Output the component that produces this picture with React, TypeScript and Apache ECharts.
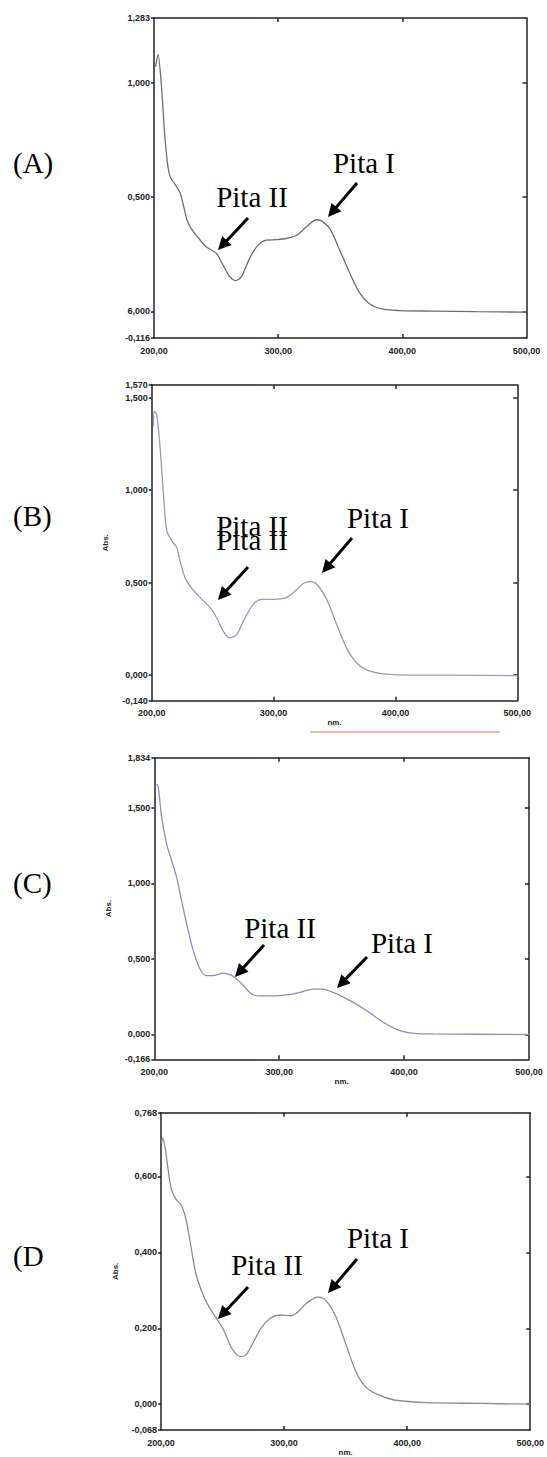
import React, { useEffect, useRef } from "react";
import * as echarts from "echarts";

// ---------- Data ----------
const nmA = [201.3, 203.2, 205.9, 208.6, 211.3, 213.2, 216.7, 220.7, 223.4, 226.6, 230, 234, 242, 250.2, 255.6, 261, 265.8, 270.4, 277, 283.8, 290.5, 298.6, 306.6, 314.7, 322.8, 330.8, 334.8, 341.6, 349.6, 357.7, 365.7, 373.8, 384.5, 398, 424.8, 460, 500];
const absA = [1.07, 1.123, 0.993, 0.775, 0.63, 0.587, 0.558, 0.522, 0.471, 0.399, 0.362, 0.333, 0.283, 0.254, 0.203, 0.152, 0.135, 0.152, 0.232, 0.29, 0.312, 0.314, 0.319, 0.333, 0.37, 0.401, 0.396, 0.362, 0.268, 0.167, 0.08, 0.033, 0.01, 0.004, 0.0015, -0.001, -0.003];

const nmB = [201.4, 202.2, 204.1, 206.8, 209.6, 212.3, 216.4, 220.5, 223.2, 227.3, 231.4, 239.7, 247.9, 253.3, 258.8, 264.3, 269.7, 275.2, 283.4, 290.2, 299.8, 309.4, 316.2, 324.4, 329.9, 335.4, 343.6, 351.8, 360, 368.2, 376.4, 390, 403.7, 450, 500];
const absB = [1.345, 1.427, 1.409, 1.236, 0.982, 0.782, 0.727, 0.691, 0.618, 0.527, 0.482, 0.418, 0.364, 0.309, 0.236, 0.2, 0.218, 0.291, 0.382, 0.409, 0.409, 0.415, 0.445, 0.495, 0.505, 0.491, 0.409, 0.273, 0.145, 0.064, 0.027, 0.005, 0.0, -0.002, -0.004];

const nmC = [201.9, 203.2, 205.9, 209.9, 213.9, 217.9, 221.9, 225.9, 231.2, 236.6, 241.9, 247.2, 255.2, 260.6, 265.9, 271.3, 277.9, 284.6, 295.3, 306, 316.6, 327.3, 334, 343.3, 356.7, 370, 383.3, 396.7, 410, 423.4, 460, 500];
const absC = [1.659, 1.637, 1.438, 1.261, 1.151, 1.04, 0.885, 0.731, 0.555, 0.433, 0.389, 0.389, 0.406, 0.395, 0.367, 0.323, 0.267, 0.254, 0.254, 0.261, 0.278, 0.3, 0.3, 0.278, 0.223, 0.157, 0.08, 0.024, 0.004, 0.002, 0, -0.002];

const nmD = [200.5, 201.3, 203.2, 205.8, 208.5, 212.4, 216.4, 220.4, 224.3, 228.3, 233.6, 238.9, 245.5, 250.8, 257.4, 264, 267.9, 273.2, 281.2, 289.1, 297, 304.9, 310.2, 318.2, 327.4, 334, 342, 349.9, 357.8, 365.7, 376.3, 389.5, 416, 460, 500];
const absD = [0.688, 0.701, 0.679, 0.618, 0.565, 0.539, 0.525, 0.486, 0.416, 0.345, 0.293, 0.257, 0.224, 0.196, 0.148, 0.126, 0.127, 0.152, 0.2, 0.227, 0.235, 0.233, 0.24, 0.266, 0.282, 0.273, 0.231, 0.161, 0.09, 0.047, 0.025, 0.011, 0.004, 0.002, 0];

const xTickValues = [200, 300, 400, 500];
const xTickLabels = ["200,00", "300,00", "400,00", "500,00"];

const yTicksA = [-0.116, 0, 0.5, 1, 1.283];
const yLabelsA = ["-0,116", "6,000", "0,500", "1,000", "1,283"];
const yTicksB = [-0.14, 0, 0.5, 1, 1.5, 1.57];
const yLabelsB = ["-0,140", "0,000", "0,500", "1,000", "1,500", "1,570"];
const yTicksC = [-0.166, 0, 0.5, 1, 1.5, 1.834];
const yLabelsC = ["-0,166", "0,000", "0,500", "1,000", "1,500", "1,834"];
const yTicksD = [-0.068, 0, 0.2, 0.4, 0.6, 0.768];
const yLabelsD = ["-0,068", "0,000", "0,200", "0,400", "0,600", "0,768"];

const panelLabels = ["(A)", "(B)", "(C)", "(D"];

// ---------- Layout ----------
const panels = [
  { nm: nmA, abs: absA, yt: yTicksA, yl: yLabelsA, color: "#6e6e6e", showNames: false,
    grid: { left: 154, top: 18, width: 372.5, height: 320 }, labelY: 165,
    pita2: [{ x: 252, y: 197 }], pita1: { x: 364, y: 163 },
    arrow2: [248, 218, 218, 250], arrow1: [357, 183, 328, 217] },
  { nm: nmB, abs: absB, yt: yTicksB, yl: yLabelsB, color: "#9a9ab2", showNames: true,
    grid: { left: 151.7, top: 385, width: 365.6, height: 315.7 }, labelY: 518,
    pita2: [{ x: 252, y: 526 }, { x: 252, y: 540 }], pita1: { x: 378, y: 518 },
    arrow2: [248, 567, 218, 600], arrow1: [352, 538, 322, 573] },
  { nm: nmC, abs: absC, yt: yTicksC, yl: yLabelsC, color: "#8e8eb8", showNames: true,
    grid: { left: 154.3, top: 757.7, width: 374.7, height: 301.6 }, labelY: 885,
    pita2: [{ x: 280, y: 928 }], pita1: { x: 402, y: 943 },
    arrow2: [264, 945, 235, 977], arrow1: [367, 957, 337, 988] },
  { nm: nmD, abs: absD, yt: yTicksD, yl: yLabelsD, color: "#8c8c8c", showNames: true,
    grid: { left: 161, top: 1112.7, width: 378.3, height: 318 }, labelY: 1258,
    pita2: [{ x: 267, y: 1265 }], pita1: { x: 378, y: 1238 },
    arrow2: [248, 1287, 218, 1319], arrow1: [357, 1259, 328, 1293] },
];

const AXIS_COLOR = "#222";
const tickFont = {
  fontFamily: "'Liberation Sans Narrow', 'Arial Narrow', 'Liberation Sans', sans-serif",
  fontWeight: "bold" as const,
  fontSize: 9,
  color: "#222",
};
const serifStyle = {
  fontFamily: "'Liberation Serif', 'Times New Roman', serif",
  fontSize: 29,
  fill: "#000",
};

function arrow(x1: number, y1: number, x2: number, y2: number) {
  const dx = x2 - x1, dy = y2 - y1;
  const len = Math.sqrt(dx * dx + dy * dy);
  const ux = dx / len, uy = dy / len;
  const px = -uy, py = ux;
  const hl = 13, hw = 6.5;
  const bx = x2 - ux * hl, by = y2 - uy * hl;
  return [
    { type: "line", silent: true, shape: { x1, y1, x2: bx + ux * 2, y2: by + uy * 2 },
      style: { stroke: "#000", lineWidth: 3 } },
    { type: "polygon", silent: true,
      shape: { points: [[x2, y2], [bx + px * hw, by + py * hw], [bx - px * hw, by - py * hw]] },
      style: { fill: "#000" } },
  ];
}

function buildOption() {
  const grid: any[] = [];
  const xAxis: any[] = [];
  const yAxis: any[] = [];
  const series: any[] = [];
  const graphic: any[] = [];

  panels.forEach((p, i) => {
    grid.push({ ...p.grid, containLabel: false });
    const lineStyle = { color: AXIS_COLOR, width: 1.5 };
    xAxis.push({
      type: "value", gridIndex: i, position: "bottom", min: 200, max: 500,
      axisLine: { show: true, onZero: false, lineStyle },
      axisTick: { show: true, inside: true, length: 4, customValues: [300, 400], lineStyle },
      axisLabel: {
        ...tickFont, margin: 8, customValues: xTickValues,
        formatter: (v: number) => xTickLabels[xTickValues.indexOf(v)] ?? "",
      },
      splitLine: { show: false },
      name: p.showNames ? "nm." : "",
      nameLocation: "middle", nameGap: 18,
      nameTextStyle: { ...tickFont, fontSize: 8 },
    });
    xAxis.push({
      type: "value", gridIndex: i, position: "top", min: 200, max: 500,
      axisLine: { show: true, onZero: false, lineStyle },
      axisTick: { show: true, inside: true, length: 4, customValues: [300, 400], lineStyle },
      axisLabel: { show: false },
      splitLine: { show: false },
    });
    const ymin = p.yt[0], ymax = p.yt[p.yt.length - 1];
    yAxis.push({
      type: "value", gridIndex: i, position: "left", min: ymin, max: ymax,
      axisLine: { show: true, onZero: false, lineStyle },
      axisTick: { show: true, inside: false, length: 3, customValues: p.yt, lineStyle },
      axisLabel: {
        ...tickFont, margin: 4, customValues: p.yt,
        formatter: (v: number) => {
          const k = p.yt.findIndex((t) => Math.abs(t - v) < 1e-9);
          return k >= 0 ? p.yl[k] : "";
        },
      },
      splitLine: { show: false },
      name: p.showNames ? "Abs." : "",
      nameLocation: "middle", nameRotate: 90, nameGap: 42,
      nameTextStyle: { ...tickFont, fontSize: 8 },
    });
    yAxis.push({
      type: "value", gridIndex: i, position: "right", min: ymin, max: ymax,
      axisLine: { show: true, onZero: false, lineStyle },
      axisTick: { show: true, inside: true, length: 4, customValues: p.yt.slice(1, -1), lineStyle },
      axisLabel: { show: false },
      splitLine: { show: false },
    });
    series.push({
      type: "line", xAxisIndex: 2 * i, yAxisIndex: 2 * i,
      data: p.nm.map((x, k) => [x, p.abs[k]]),
      showSymbol: false, smooth: 0.3, silent: true,
      lineStyle: { color: p.color, width: 1.3 },
    });

    graphic.push({
      type: "text", left: 13, top: p.labelY - 17, silent: true,
      style: { text: panelLabels[i], ...serifStyle },
    });
    p.pita2.forEach((pt) => {
      graphic.push({
        type: "text", x: pt.x, y: pt.y, silent: true,
        style: { text: "Pita II", ...serifStyle, align: "center", verticalAlign: "middle" },
      });
    });
    graphic.push({
      type: "text", x: p.pita1.x, y: p.pita1.y, silent: true,
      style: { text: "Pita I", ...serifStyle, align: "center", verticalAlign: "middle" },
    });
    graphic.push(...arrow(p.arrow2[0], p.arrow2[1], p.arrow2[2], p.arrow2[3]));
    graphic.push(...arrow(p.arrow1[0], p.arrow1[1], p.arrow1[2], p.arrow1[3]));
  });

  // faint red scan line beneath panel B
  graphic.push({
    type: "line", silent: true, shape: { x1: 310, y1: 732, x2: 500, y2: 732 },
    style: { stroke: "#f3a08c", lineWidth: 1.5 },
  });

  return { animation: false, backgroundColor: "#ffffff", grid, xAxis, yAxis, series, graphic };
}

export default function App() {
  const ref = useRef<HTMLDivElement>(null);
  useEffect(() => {
    if (!ref.current) return;
    const chart = echarts.init(ref.current, undefined, { renderer: "svg" });
    chart.setOption(buildOption() as any);
    return () => chart.dispose();
  }, []);
  return (
    <div
      ref={ref}
      style={{ position: "absolute", left: 0, top: 0, width: 547, height: 1457, background: "#fff" }}
    />
  );
}
